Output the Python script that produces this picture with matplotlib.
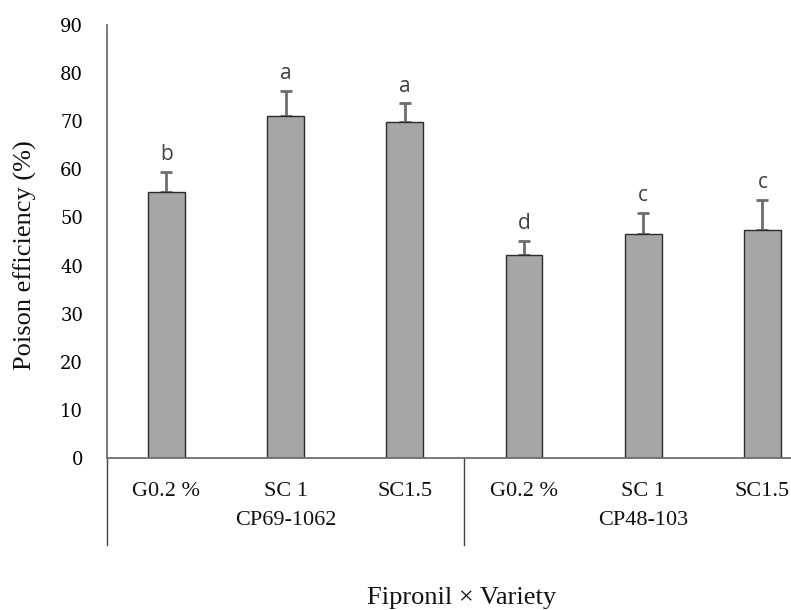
import matplotlib
matplotlib.use("Agg")
import matplotlib.pyplot as plt
import matplotlib.transforms as mtransforms

# Data
treatments = ["G0.2 %", "SC 1", "SC1.5", "G0.2 %", "SC 1", "SC1.5"]
varieties = ["CP69-1062", "CP48-103"]
efficiency = [55.2, 71.0, 69.8, 42.3, 46.6, 47.4]
errors = [4.3, 5.3, 3.9, 2.8, 4.3, 6.3]
letters = ["b", "a", "a", "d", "c", "c"]
yticks = [0, 10, 20, 30, 40, 50, 60, 70, 80, 90]

plt.rcParams["font.family"] = ["Liberation Serif", "DejaVu Serif"]

fig = plt.figure(figsize=(7.91, 6.10), dpi=100)
ax = fig.add_axes([0.135, 0.249, 0.865, 0.710])

x = list(range(len(efficiency)))
ax.bar(x, efficiency, width=0.31, color="#a6a6a6", edgecolor="#2b2b2b",
       linewidth=1.0, zorder=2)
ax.errorbar(x, efficiency, yerr=[[0] * len(errors), errors], fmt="none",
            ecolor="#6e6e6e", elinewidth=2.0, capsize=4, capthick=2.0, zorder=1)

for xi, v, e, lab in zip(x, efficiency, errors, letters):
    ax.annotate(lab, (xi, v + e), xytext=(0, 5), textcoords="offset points",
                ha="center", va="bottom", fontsize=15, color="#404040",
                family=["Open Sans", "DejaVu Sans"])

ax.set_xlim(-0.5, 5.24)
ax.set_ylim(0, 90)
ax.set_yticks(yticks)
ax.set_yticklabels([str(t) for t in yticks], fontsize=13, color="#000000",
                   family=["DejaVu Serif"])
ax.tick_params(axis="y", length=0, pad=17)
ax.set_xticks(x)
ax.set_xticklabels(treatments, fontsize=16, color="#111111")
ax.tick_params(axis="x", length=0, pad=17)

for side in ["top", "right"]:
    ax.spines[side].set_visible(False)
for side in ["left", "bottom"]:
    ax.spines[side].set_color("#6e6e6e")
    ax.spines[side].set_linewidth(1.3)

# group separators and variety labels under the axis
trans = mtransforms.blended_transform_factory(ax.transData, ax.transAxes)
n_per = len(treatments) // len(varieties)
for g in range(len(varieties) + 1):
    xs = g * n_per - 0.5
    ax.plot([xs, xs], [0, -0.201], transform=trans, color="#444444",
            lw=1.0, clip_on=False)
for g, name in enumerate(varieties):
    xc = g * n_per + (n_per - 1) / 2
    ax.text(xc, -0.145, name, transform=trans, ha="center", va="center",
            fontsize=16, color="#111111")

fig.text(0.584, 0.02, "Fipronil \u00d7 Variety", ha="center", va="center",
         fontsize=19, color="#111111")
fig.text(0.032, 0.582, "Poison efficiency (%)", ha="center", va="center",
         rotation=90, fontsize=19, color="#111111")

fig.savefig("out.png", dpi=100)
